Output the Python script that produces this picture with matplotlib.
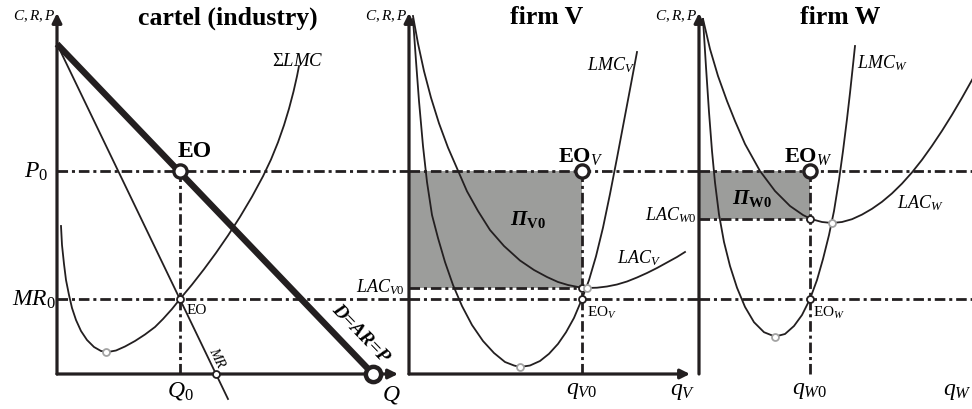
import matplotlib.pyplot as plt

plt.rcParams["font.family"] = ["Liberation Serif", "DejaVu Serif"]
plt.rcParams["mathtext.fontset"] = "custom"
plt.rcParams["mathtext.rm"] = "Liberation Serif"
plt.rcParams["mathtext.it"] = "Liberation Serif:italic"
plt.rcParams["mathtext.bf"] = "Liberation Serif:bold"
plt.rcParams["mathtext.bfit"] = "Liberation Serif:bold:italic"

INK = "#231f20"
SHADE = "#9c9d9b"
GREY = "#a3a3a3"
DASHDOT = (0, (3.8, 1.4, 1.1, 1.4))

# levels shared by the three panels (same price scale)
P0 = 20.3
MR0 = 7.5
Y_TOP = 36.1

# cartel (industry)
D_q = [0.0, 31.6]
D_p = [33.0, 0.0]
MR_q = [0.0, 17.1]
MR_p = [33.0, -2.5]
Q0 = 12.3
MR_q_zero = 15.9
SLMC_q = [0.4, 0.5, 0.7, 0.9, 1.2, 1.5, 1.9, 2.4, 3.0, 3.7, 4.4, 5.1, 5.9, 6.8,
          7.8, 8.8, 9.8, 10.6, 11.5, 12.3, 13.5, 14.7, 15.9, 17.1, 18.3, 19.5,
          20.6, 21.4, 22.1, 22.7, 23.2, 23.65, 24.0, 24.2]
SLMC_c = [14.8, 12.9, 11.0, 9.4, 7.9, 6.6, 5.4, 4.3, 3.4, 2.7, 2.3, 2.2, 2.35, 2.75,
          3.3, 3.95, 4.7, 5.5, 6.5, 7.5, 8.94, 10.48, 12.11, 13.85, 15.71, 17.73,
          19.77, 21.45, 23.17, 24.88, 26.53, 28.24, 29.78, 30.8]
SLMC_min = (4.9, 2.2)

# firm V
qV0 = 17.3
LAC_V0 = 8.6
LMC_V_q = [0.4, 0.7, 1.0, 1.4, 1.8, 2.3, 2.9, 3.6, 4.4, 5.3, 6.3, 7.4, 8.5, 9.6,
           10.5, 11.1, 12.1, 13.1, 14.0, 14.9, 15.7, 16.5, 17.3, 18.0, 18.7,
           19.4, 20.1, 20.8, 21.5, 22.2, 22.8]
LMC_V_c = [35.5, 31.3, 27.3, 22.8, 19.2, 15.9, 13.6, 11.2, 8.9, 6.8, 4.9, 3.3, 2.1,
           1.2, 0.85, 0.7, 0.85, 1.3, 2.02, 3.01, 4.17, 5.61, 7.5, 9.39, 11.77,
           14.64, 18.0, 21.6, 25.3, 29.0, 32.2]
LAC_V_q = [0.4, 0.9, 1.5, 2.2, 3.0, 3.9, 4.8, 5.8, 6.9, 8.1, 9.5, 11.1, 12.5,
           13.8, 14.9, 15.9, 16.9, 17.8, 18.8, 19.8, 20.8, 21.8, 22.8, 23.8,
           24.8, 25.8, 26.8, 27.6]
LAC_V_c = [35.8, 33.05, 30.29, 27.63, 25.07, 22.64, 20.57, 18.27, 16.3, 14.4,
           12.8, 11.35, 10.4, 9.7, 9.2, 8.9, 8.7, 8.6, 8.63, 8.75, 8.95, 9.25,
           9.65, 10.1, 10.6, 11.15, 11.7, 12.2]
LAC_V_min = (17.8, 8.6)
LMC_V_min = (11.1, 0.7)

# firm W
qW0 = 11.1
LAC_W0 = 15.5
LMC_W_q = [0.4, 0.7, 1.0, 1.3, 1.6, 2.0, 2.5, 3.1, 3.8, 4.6, 5.5, 6.5, 7.6, 8.6,
           9.5, 10.3, 11.1, 11.8, 12.4, 13.0, 13.5, 14.0, 14.4, 14.8, 15.1,
           15.4, 15.6]
LMC_W_c = [35.5, 30.7, 26.2, 22.3, 19.15, 15.95, 13.2, 10.8, 8.63, 6.71, 5.18,
           4.18, 3.74, 4.0, 4.8, 5.9, 7.5, 9.4, 11.5, 13.9, 16.3, 19.4, 22.3,
           25.5, 28.1, 30.9, 32.8]
LAC_W_q = [0.4, 1.1, 1.9, 2.8, 3.6, 4.6, 6.1, 7.6, 9.1, 10.4, 11.2, 12.3, 13.3,
           14.3, 15.3, 16.3, 17.3, 18.3, 19.3, 20.3, 21.3, 22.3, 23.3, 24.3,
           25.3, 26.3, 27.4]
LAC_W_c = [35.5, 32.5, 29.8, 27.3, 25.3, 23.0, 20.3, 18.3, 16.8, 15.9, 15.5,
           15.2, 15.1, 15.2, 15.48, 15.94, 16.52, 17.22, 18.06, 19.04, 20.16,
           21.42, 22.82, 24.32, 25.92, 27.62, 29.58]
LAC_W_min = (13.3, 15.1)
LMC_W_min = (7.6, 3.74)

# panel origins (pixels) and axis lengths
origins = [57, 409, 699]
x_ends = [34.1, 28.1, 27.4]
line_ends = [35.2, 29.0, 27.4]


def make_panel(fig, x0):
    ax = fig.add_axes([0, 0, 1, 1])
    ax.set_xlim(-x0 / 10, (972 - x0) / 10)
    ax.set_ylim(-3.5, 37.5)
    ax.axis("off")
    ax.patch.set_alpha(0)
    return ax


def draw_axes(ax, x_end):
    props = dict(arrowstyle="-|>", lw=2.3, color=INK, mutation_scale=14,
                 shrinkA=0, shrinkB=0)
    ax.annotate("", xy=(0, Y_TOP), xytext=(0, 0), arrowprops=props, zorder=6)
    ax.annotate("", xy=(x_end, 0), xytext=(0, 0), arrowprops=props, zorder=6)
    ax.text(-0.2, Y_TOP - 0.2, "$C,R,P$", fontsize=11, ha="right", va="center")


def hdash(ax, y, x1, x2):
    ax.plot([x1, x2], [y, y], color=INK, lw=2.0, linestyle=DASHDOT, zorder=3)


def vdash(ax, x, y1, y2):
    ax.plot([x, x], [y1, y2], color=INK, lw=2.0, linestyle=DASHDOT, zorder=3)


def big_dot(ax, x, y, size=9.5, mew=2.4):
    ax.plot(x, y, "o", ms=size, mfc="white", mec=INK, mew=mew, zorder=7)


def small_dot(ax, x, y, edge=INK):
    ax.plot(x, y, "o", ms=5, mfc="white", mec=edge, mew=1.3, zorder=7)


fig = plt.figure(figsize=(9.72, 4.10), dpi=100)
ax1, ax2, ax3 = [make_panel(fig, x0) for x0 in origins]

for ax, x_end, l_end in zip([ax1, ax2, ax3], x_ends, line_ends):
    draw_axes(ax, x_end)
    hdash(ax, P0, 0, l_end)
    hdash(ax, MR0, 0, l_end)

# cartel (industry)
ax1.plot(MR_q, MR_p, color=INK, lw=1.3, zorder=2)
ax1.plot(SLMC_q, SLMC_c, color=INK, lw=1.3, zorder=2)
ax1.plot(D_q, D_p, color=INK, lw=4.6, solid_capstyle="butt", zorder=4)
vdash(ax1, Q0, 0, P0)
big_dot(ax1, Q0, P0)
big_dot(ax1, D_q[1], 0, size=11, mew=3.2)
small_dot(ax1, Q0, MR0)
small_dot(ax1, MR_q_zero, 0)
small_dot(ax1, *SLMC_min, edge=GREY)
ax1.text(17.1, 35.7, "cartel (industry)", fontsize=18.5, fontweight="bold",
         ha="center", va="center")
ax1.text(-0.9, P0, "$P_0$", fontsize=17, ha="right", va="center")
ax1.text(-0.1, MR0, "$MR_0$", fontsize=17, ha="right", va="center")
ax1.text(Q0, -1.6, "$Q_0$", fontsize=17, ha="center", va="center")
ax1.text(33.4, -2.0, "$Q$", fontsize=17, ha="center", va="center")
ax1.text(13.8, 22.3, "EO", fontsize=17, fontweight="bold", ha="center", va="center")
ax1.text(13.0, 6.4, "EO", fontsize=11, ha="left", va="center")
ax1.text(21.5, 31.3, r"$\Sigma LMC$", fontsize=13.5, ha="left", va="center")
ax1.text(16.0, 1.7, "$MR$", fontsize=10, rotation=-64, ha="center", va="center")
ax1.text(30.3, 4.1, "D=AR=P", fontsize=14, fontweight="bold", fontstyle="italic",
         rotation=-46, ha="center", va="center")

# firm V
ax2.fill_between([0, qV0], LAC_V0, P0, color=SHADE, lw=0, zorder=1)
ax2.plot(LMC_V_q, LMC_V_c, color=INK, lw=1.3, zorder=2)
ax2.plot(LAC_V_q, LAC_V_c, color=INK, lw=1.3, zorder=2)
hdash(ax2, LAC_V0, 0, qV0)
vdash(ax2, qV0, 0, P0)
big_dot(ax2, qV0, P0)
small_dot(ax2, qV0, LAC_V0)
small_dot(ax2, qV0, MR0)
small_dot(ax2, *LAC_V_min, edge=GREY)
small_dot(ax2, *LMC_V_min, edge=GREY)
ax2.text(13.8, 35.7, "firm V", fontsize=18.5, fontweight="bold",
         ha="center", va="center")
ax2.text(22.6, 31.0, "$LMC_V$", fontsize=13, ha="right", va="center")
ax2.text(20.8, 11.7, "$LAC_V$", fontsize=13, ha="left", va="center")
ax2.text(-0.4, 8.8, "$LAC_{V0}$", fontsize=13, ha="right", va="center")
ax2.text(17.2, 21.8, r"$\mathbf{EO}_V$", fontsize=16, ha="center", va="center")
ax2.text(17.8, 6.2, r"$\mathrm{EO}_V$", fontsize=11, ha="left", va="center")
ax2.text(11.9, 15.5, r"$\mathbfit{\Pi}_{\mathbf{V0}}$", fontsize=15,
         ha="center", va="center")
ax2.text(qV0, -1.6, "$q_{V0}$", fontsize=17, ha="center", va="center")
ax2.text(27.4, -1.7, "$q_V$", fontsize=17, ha="center", va="center")

# firm W
ax3.fill_between([0, qW0], LAC_W0, P0, color=SHADE, lw=0, zorder=1)
ax3.plot(LMC_W_q, LMC_W_c, color=INK, lw=1.3, zorder=2)
ax3.plot(LAC_W_q, LAC_W_c, color=INK, lw=1.3, zorder=2)
hdash(ax3, LAC_W0, 0, qW0)
vdash(ax3, qW0, 0, P0)
big_dot(ax3, qW0, P0)
small_dot(ax3, qW0, LAC_W0)
small_dot(ax3, qW0, MR0)
small_dot(ax3, *LAC_W_min, edge=GREY)
small_dot(ax3, *LMC_W_min, edge=GREY)
ax3.text(14.1, 35.7, "firm W", fontsize=18.5, fontweight="bold",
         ha="center", va="center")
ax3.text(15.8, 31.2, "$LMC_W$", fontsize=13, ha="left", va="center")
ax3.text(19.8, 17.2, "$LAC_W$", fontsize=13, ha="left", va="center")
ax3.text(-0.2, 16.0, "$LAC_{W0}$", fontsize=13, ha="right", va="center")
ax3.text(10.9, 21.8, r"$\mathbf{EO}_W$", fontsize=16, ha="center", va="center")
ax3.text(11.4, 6.2, r"$\mathrm{EO}_W$", fontsize=11, ha="left", va="center")
ax3.text(5.3, 17.6, r"$\mathbfit{\Pi}_{\mathbf{W0}}$", fontsize=15,
         ha="center", va="center")
ax3.text(qW0, -1.6, "$q_{W0}$", fontsize=17, ha="center", va="center")
ax3.text(27.25, -1.7, "$q_W$", fontsize=17, ha="right", va="center")

fig.savefig("out.png", dpi=100)
